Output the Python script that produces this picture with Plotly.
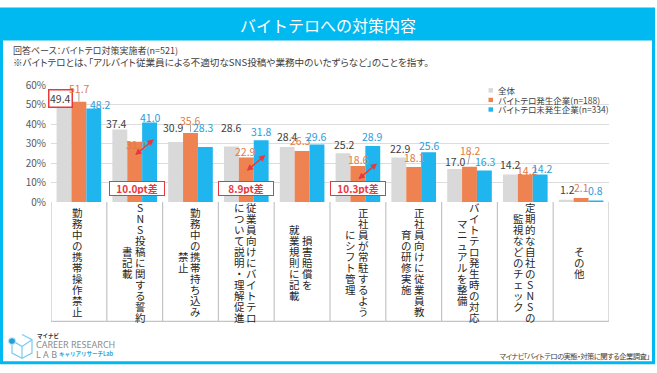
import plotly.graph_objects as go

W, H = 657, 373

# ---------------- data ----------------
categories = [
    "勤務中の携帯操作禁止",
    "SNS投稿に関する誓約書記載",
    "勤務中の携帯持ち込み禁止",
    "従業員向けにバイトテロについて説明・理解促進",
    "損害賠償を就業規則に記載",
    "正社員が常駐するようにシフト管理",
    "正社員向けに従業員教育の研修実施",
    "バイトテロ発生時の対応マニュアルを整備",
    "定期的な自社のSNSの監視などのチェック",
    "その他",
]
# vertical-writing columns of each category label (right column first)
category_columns = [
    ["勤務中の携帯操作禁止"],
    ["SNS投稿に関する誓約", "書記載"],
    ["勤務中の携帯持ち込み", "禁止"],
    ["従業員向けにバイトテロ", "について説明・理解促進"],
    ["損害賠償を", "就業規則に記載"],
    ["正社員が常駐するよう", "にシフト管理"],
    ["正社員向けに従業員教", "育の研修実施"],
    ["バイトテロ発生時の対応", "マニュアルを整備"],
    ["定期的な自社のSNSの", "監視などのチェック"],
    ["その他"],
]
series_names = ["全体", "バイトテロ発生企業(n=188)", "バイトテロ未発生企業(n=334)"]
overall = [49.4, 37.4, 30.9, 28.6, 28.4, 25.2, 22.9, 17.0, 14.2, 1.2]
occurred = [51.7, 31.0, 35.6, 22.9, 26.3, 18.6, 18.1, 18.2, 14.2, 2.1]
not_occurred = [48.2, 41.0, 28.3, 31.8, 29.6, 28.9, 25.6, 16.3, 14.2, 0.8]
y_ticks = [0, 10, 20, 30, 40, 50, 60]
diff_categories = [1, 3, 5]   # categories with a highlighted gap

title_text = "バイトテロへの対策内容"
base_text = "回答ベース：バイトテロ対策実施者(n=521)"
note_text = "※バイトテロとは、「アルバイト従業員による不適切なSNS投稿や業務中のいたずらなど」のことを指す。"
source_text = "マイナビ「バイトテロの実態・対策に関する企業調査」"

# ---------------- styles ----------------
FONT = "Noto Sans CJK JP"
CYAN = "#00B9F1"
RED = "#E8383D"
bar_colors = ["#D9D9D9", "#EE8250", "#1FB5EE"]
label_colors = ["#404040", "#E27B45", "#2A9DD9"]
TEXT = "#404040"

# label offsets (px): dx from bar centre, up = label centre above bar top
label_dx = [
    [-4, -3.5, -2, 0.5, 0.5, 1, 1.7, 1.2, 0, 1],
    [1, 1.5, 0, -0.8, -2, 1, 1, 0.7, 1.7, 0],
    [6.5, 0.5, -2, 0.8, 0, 0, 1, 0.7, 2.7, 0],
]
label_up = [
    [7.5, 5.5, 14.7, 18.7, 10.8, 8.9, 9.3, 7.9, 10.2, 10],
    [13.6, -2.7, 12.8, 6, 10.1, 6.3, 9, 16.5, 3.6, 10.1],
    [4, 5.3, 19.3, 8.9, 8.4, 9.1, 6.5, 8.7, 6.2, 10],
]
# leader lines: (category, x0, y0, x1, y1) in px relative to orange bar top
leaders = [(0, 0, 0, 0, 9), (2, 0, 1, 0, 8), (7, -1.7, 2, 0.7, 14)]

def px(x):
    return x / W

def py(y):
    return 1 - y / H

def palt(t, spacing=0):
    return f"<span style=\"font-feature-settings:'palt';letter-spacing:{spacing}px\">{t}</span>"

series = [overall, occurred, not_occurred]

fig = go.Figure()
for name, vals, col in zip(series_names, series, bar_colors):
    fig.add_trace(go.Bar(x=categories, y=vals, name=name, marker_color=col,
                         marker_line_width=0, showlegend=False, hoverinfo="skip"))

X0, X1 = 51, 609
Y0, Y60 = 201.7, 80
cat_w = (X1 - X0) / len(categories)
bar_w = cat_w * 0.8 / 3
offsets = [-bar_w, 0, bar_w]

ann = []
shapes = []

def text_at(t, x, y, size, color=TEXT, xanchor="left", family=FONT):
    ann.append(dict(text=t, x=px(x), y=py(y), xref="paper", yref="paper",
                    xanchor=xanchor, yanchor="middle", showarrow=False,
                    font=dict(family=family, size=size, color=color)))

# frame + title band
shapes.append(dict(type="rect", xref="paper", yref="paper", x0=px(1.5), x1=px(653.5),
                   y0=py(369.5), y1=py(0), line=dict(color=CYAN, width=3), layer="below"))
shapes.append(dict(type="rect", xref="paper", yref="paper", x0=0, x1=px(655),
                   y0=py(33), y1=1, fillcolor=CYAN, line=dict(width=0), layer="below"))
text_at(title_text, 328, 17, 16, color="white", xanchor="center")
text_at(palt(base_text), 11, 43, 9)
text_at(palt(note_text), 11, 55, 9.6)
text_at(palt(source_text, -0.6), 651, 362, 7.4, xanchor="right")

# legend (from series names)
for k, (name, col) in enumerate(zip(series_names, bar_colors)):
    yc = 85 + 10 * k
    shapes.append(dict(type="rect", xref="paper", yref="paper", x0=px(488.5), x1=px(493),
                       y0=py(yc + 2.3), y1=py(yc - 2.3), fillcolor=col, line=dict(width=0)))
    text_at(palt(name), 496, yc, 8.5)

# data labels
for s, vals in enumerate(series):
    for i, v in enumerate(vals):
        a = dict(text=f"{v:.1f}", x=categories[i], y=v, xref="x", yref="y",
                 xshift=offsets[s] + label_dx[s][i], yshift=label_up[s][i],
                 yanchor="middle", showarrow=False,
                 font=dict(family=FONT, size=10.5, color=label_colors[s]))
        if s == 0 and i == 0:
            a.update(bordercolor=RED, borderwidth=1.5, borderpad=0.5, bgcolor="white")
        ann.append(a)

for (i, x0, y0, x1, y1) in leaders:
    shapes.append(dict(type="line", xref="x", yref="y", xsizemode="pixel", ysizemode="pixel",
                       xanchor=i, yanchor=occurred[i], x0=x0, x1=x1, y0=y0, y1=y1,
                       line=dict(color="#A6A6A6", width=1)))

# gap arrows and boxes
for i in diff_categories:
    gap = not_occurred[i] - occurred[i]
    ann.append(dict(text="", x=categories[i], y=occurred[i], xref="x", yref="y",
                    xshift=19, yshift=2.5, ax=-20, ay=17, showarrow=True,
                    arrowside="end+start", arrowhead=2, startarrowhead=2,
                    arrowsize=0.9, startarrowsize=0.9, arrowwidth=1.4, arrowcolor=RED,
                    standoff=0, startstandoff=0))
    ann.append(dict(text=f"<b>{gap:.1f}pt差</b>", x=categories[i], y=py(188),
                    xref="x", yref="paper", xshift=2 if i == 1 else 0,
                    yanchor="middle", showarrow=False,
                    font=dict(family=FONT, size=10, color=RED), bordercolor=RED,
                    borderwidth=1, borderpad=1, bgcolor="white", width=52, height=11))

# category label box
BOX_TOP, BOX_BOT = 201.7, 326.3
for i in range(len(categories) + 1):
    shapes.append(dict(type="line", xref="x", yref="paper", x0=i - 0.5, x1=i - 0.5,
                       y0=py(BOX_BOT), y1=py(BOX_TOP), line=dict(color="#C4C4C4", width=1.2)))
shapes.append(dict(type="line", xref="x", yref="paper", x0=-0.5, x1=len(categories) - 0.5,
                   y0=py(BOX_BOT), y1=py(BOX_BOT), line=dict(color="#C4C4C4", width=1.2)))

# vertical-writing category labels: one text per column, characters stacked
PITCH = 11                 # px between characters
LINE_FONT = PITCH / 1.3    # plotly line spacing is 1.3em of the base font
CHAR_FONT = 10.5
YC = 264.7
for i, cols in enumerate(category_columns):
    xs = [-1.5] if len(cols) == 1 else [-1 + 6.3, -1 - 6.3]
    for col_text, xo in zip(cols, xs):
        stacked = "<br>".join(f"<span style=\"font-size:{CHAR_FONT}px\">{ch}</span>" for ch in col_text)
        ann.append(dict(text=stacked, x=categories[i], y=py(YC), xref="x", yref="paper",
                        xshift=xo, showarrow=False, xanchor="center", yanchor="middle",
                        font=dict(family=FONT, size=LINE_FONT, color="#262626")))

# logo (bottom left)
LB = "#7CCBEF"
def path(pts):
    return "M " + " L ".join(f"{px(x)},{py(y)}" for x, y in pts)
shapes.append(dict(type="path", xref="paper", yref="paper",
                   path=path([(22, 340), (32, 345.5), (32, 359.5), (22, 365), (12, 359.5), (12, 351)]),
                   line=dict(color=LB, width=1.2)))
shapes.append(dict(type="path", xref="paper", yref="paper",
                   path=path([(13, 347), (22, 352.5), (22, 365)]), line=dict(color=LB, width=1.2)))
shapes.append(dict(type="path", xref="paper", yref="paper",
                   path=path([(22, 352.5), (32, 345.5)]), line=dict(color=LB, width=1.2)))
shapes.append(dict(type="circle", xref="paper", yref="paper", x0=px(8.5), x1=px(15.5),
                   y0=py(350.5), y1=py(343.5), fillcolor="#1EA0DC", line=dict(color="#BEE6F8", width=1)))
text_at("<b>マイナビ</b>", 35, 341.5, 5.5, color="#333333")
text_at("CAREER RESEARCH", 34, 351, 9, color="#8A8A8A", family="Noto Sans")
text_at("L A B", 34, 361, 9, color="#8A8A8A", family="Noto Sans")
text_at("<b>キャリアリサーチLab</b>", 57, 360.5, 5.5, color="#2AA7E0")

fig.update_layout(
    width=W, height=H, margin=dict(l=0, r=0, t=0, b=0),
    paper_bgcolor="white", plot_bgcolor="white",
    barmode="group", bargap=0.2, bargroupgap=0,
    font=dict(family=FONT, color=TEXT),
    xaxis=dict(domain=[px(X0), px(X1)], type="category", range=[-0.5, len(categories) - 0.5],
               showticklabels=False, showgrid=False, zeroline=False, showline=False, fixedrange=True),
    yaxis=dict(domain=[py(Y0), py(Y60)], range=[0, 60], tickvals=y_ticks,
               ticktext=[f"{t}%" for t in y_ticks], showgrid=True, gridcolor="#DCDCDC",
               gridwidth=1, zeroline=False, showline=False, ticks="",
               tickfont=dict(family=FONT, size=10, color="#595959"), ticklabelstandoff=4,
               fixedrange=True),
    annotations=ann, shapes=shapes,
)

fig.write_html("out.html", config={"displayModeBar": False},
               post_script="document.body.style.margin='0';document.body.style.overflow='hidden';")
